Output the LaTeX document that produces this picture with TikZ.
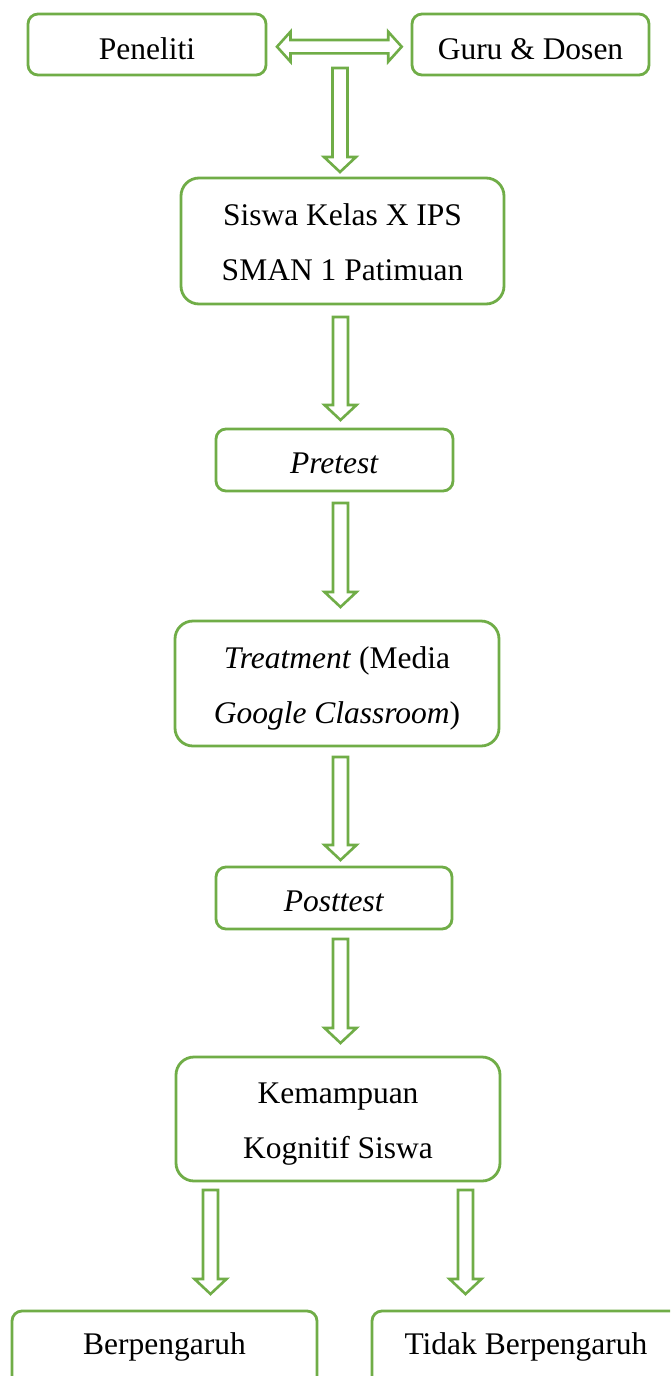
\documentclass[tikz,border=0pt]{standalone}
\usepackage{fontspec}
\setmainfont{Liberation Serif}
\usetikzlibrary{calc}
\definecolor{gr}{HTML}{70AD47}
\tikzset{
 box/.style={draw=gr, line width=2.8pt, rounded corners=10pt, inner sep=0pt, align=center, font=\fontsize{31.5}{55}\selectfont},
 bigbox/.style={box, rounded corners=18pt, text height=79pt, text depth=0pt},
 blockarrow/.style={draw=gr, line width=2.6pt, line join=miter, fill=white},
}
\newcommand\vblock[2]{\draw[blockarrow] let \p1=(#1), \p2=(#2) in (\x1-7.5pt,\y1) -- (\x1+7.5pt,\y1) -- (\x1+7.5pt,\y2+15pt) -- (\x1+16pt,\y2+15pt) -- (\x1,\y2) -- (\x1-16pt,\y2+15pt) -- (\x1-7.5pt,\y2+15pt) -- cycle;}
\begin{document}
\begin{tikzpicture}[x=1pt,y=-1pt]
\clip (0,0) rectangle (670,1376);
\fill[white] (0,0) rectangle (670,1376);
% nodes
\node[box, text height=29pt, text depth=0pt, minimum width=238pt, minimum height=61pt] (peneliti) at (147,44.5) {Peneliti};
\node[box, text height=29pt, text depth=0pt, minimum width=237pt, minimum height=61pt] (guru) at (530.5,44.5) {Guru \& Dosen};
\node[bigbox, minimum width=323pt, minimum height=126pt] (siswa) at (342.5,241) {Siswa Kelas X IPS\\SMAN 1 Patimuan};
\node[box, text height=26pt, text depth=0pt, minimum width=237pt, minimum height=62pt] (pre) at (334.5,460) {\textit{Pretest}};
\node[bigbox, minimum width=324pt, minimum height=125pt] (treat) at (337,683.5) {\textit{Treatment} (Media\\\textit{Google Classroom})};
\node[box, text height=26pt, text depth=0pt, minimum width=236pt, minimum height=62pt] (post) at (334,898) {\textit{Posttest}};
\node[bigbox, minimum width=324pt, minimum height=124pt] (kem) at (338,1119) {Kemampuan\\Kognitif Siswa};
\node[box, text height=0pt, text depth=4pt, minimum width=305pt, minimum height=90pt] (ber) at (164.5,1356) {Berpengaruh};
\node[box, text height=0pt, text depth=4pt, minimum width=308pt, minimum height=90pt] (tidak) at (526,1356) {Tidak Berpengaruh};
% connector end points
\coordinate (hL) at (277,46.7);
\coordinate (hR) at (401.7,46.7);
\coordinate (a1s) at (340,68);
\coordinate (a1e) at (340,172);
\coordinate (a2s) at (340.5,317);
\coordinate (a2e) at (340.5,420);
\coordinate (a3s) at (340.5,503);
\coordinate (a3e) at (340.5,607);
\coordinate (a4s) at (340.5,757);
\coordinate (a4e) at (340.5,860);
\coordinate (a5s) at (340.5,939);
\coordinate (a5e) at (340.5,1043);
\coordinate (a6s) at (210.5,1190);
\coordinate (a6e) at (210.5,1294);
\coordinate (a7s) at (465.5,1190);
\coordinate (a7e) at (465.5,1294);
% double arrow
\draw[blockarrow] let \p1=(hL), \p2=(hR) in (\x1,\y1) -- (\x1+13.5pt,\y1+15pt) -- (\x1+13.5pt,\y1+6.7pt) -- (\x2-13.5pt,\y1+6.7pt) -- (\x2-13.5pt,\y1+15pt) -- (\x2,\y1) -- (\x2-13.5pt,\y1-15pt) -- (\x2-13.5pt,\y1-6.7pt) -- (\x1+13.5pt,\y1-6.7pt) -- (\x1+13.5pt,\y1-15pt) -- cycle;
\vblock{a1s}{a1e}
\vblock{a2s}{a2e}
\vblock{a3s}{a3e}
\vblock{a4s}{a4e}
\vblock{a5s}{a5e}
\vblock{a6s}{a6e}
\vblock{a7s}{a7e}
\end{tikzpicture}
\end{document}
